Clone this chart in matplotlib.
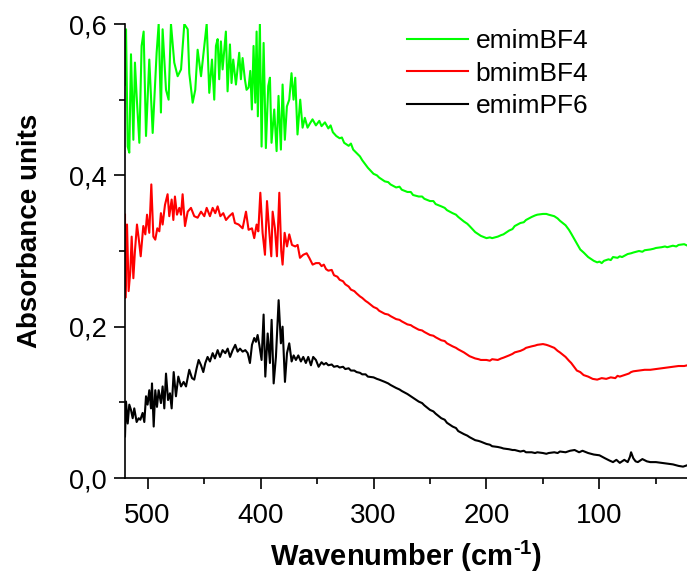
import matplotlib
matplotlib.use("Agg")
import matplotlib.pyplot as plt
from matplotlib.ticker import MultipleLocator, FuncFormatter

plt.rcParams['font.family'] = ['Liberation Sans', 'DejaVu Sans']
plt.rcParams['mathtext.fontset'] = 'custom'
plt.rcParams['mathtext.bf'] = 'Liberation Sans:bold'
plt.rcParams['mathtext.rm'] = 'Liberation Sans:bold'

labels = ["emimBF4", "bmimBF4", "emimPF6"]
colors = ["#00ff00", "#ff0000", "#000000"]

# emimBF4 (green)
x_emimBF4 = [520, 519.1, 517.6, 516.2, 514.7, 512.6, 511.2, 509.7, 507.3, 505.3, 503.5, 501.4,
             498.5, 495.5, 492.0, 490.2, 488.2, 486.7, 483.7, 481.4, 479.3, 476.4, 473.4, 470.4,
             467.5, 464.5, 463.1, 460.1, 457.8, 455.7, 452.7, 449.8, 447.7, 445.4, 443.0, 441.0,
             439.5, 438.0, 436.6, 435.1, 433.6, 430.7, 429.2, 427.1, 425.7, 424.2, 421.8, 418.9,
             417.4, 415.9, 413.9, 412.4, 410.6, 409.1, 407.7, 406.2, 404.7, 403.5, 402.4, 400.6,
             399.1, 397.3, 395.3, 393.2, 391.7, 390.3, 387.9, 385.8, 384.1, 382.0, 380.5, 378.5,
             376.7, 374.6, 372.6, 370.8, 369.3, 367.3, 364.9, 362.8, 360.8, 358.4, 356.1, 354.0,
             351, 348, 346, 343, 340, 338, 336, 333,
             330, 328, 326, 322, 320, 318, 314, 312,
             310, 307, 305, 300, 297, 295, 290, 287,
             285, 280, 277, 275, 270, 267, 265, 260,
             257, 255, 250, 247, 245, 240, 237, 235,
             230, 227, 225, 220, 217, 215, 210, 207,
             205, 200, 197, 195, 190, 187, 185, 180,
             177, 175, 170, 167, 165, 160, 157, 155,
             150, 147, 145, 140, 137, 135, 130, 127,
             125, 120, 117, 114, 110, 107, 105, 102,
             100, 98, 96, 92, 90, 88, 84, 82,
             80, 75, 72, 70, 65, 62, 60, 55,
             52, 50, 45, 42, 40, 35, 32, 30,
             25, 22]
y_emimBF4 = [0.520, 0.593, 0.438, 0.430, 0.560, 0.447, 0.549, 0.505, 0.443, 0.571, 0.590, 0.452,
             0.553, 0.456, 0.562, 0.600, 0.483, 0.593, 0.513, 0.500, 0.600, 0.549, 0.531, 0.540,
             0.600, 0.593, 0.535, 0.496, 0.513, 0.566, 0.531, 0.571, 0.600, 0.509, 0.553, 0.500,
             0.571, 0.580, 0.527, 0.577, 0.540, 0.590, 0.511, 0.573, 0.522, 0.553, 0.520, 0.562,
             0.527, 0.555, 0.527, 0.513, 0.516, 0.538, 0.487, 0.571, 0.496, 0.590, 0.478, 0.600,
             0.438, 0.575, 0.436, 0.518, 0.529, 0.443, 0.487, 0.432, 0.505, 0.434, 0.520, 0.447,
             0.491, 0.500, 0.535, 0.500, 0.529, 0.454, 0.500, 0.463, 0.476, 0.463, 0.469, 0.474,
             0.466, 0.472, 0.465, 0.470, 0.462, 0.466, 0.457, 0.452,
             0.449, 0.450, 0.443, 0.439, 0.442, 0.434, 0.428, 0.425,
             0.420, 0.414, 0.410, 0.402, 0.400, 0.397, 0.392, 0.391,
             0.388, 0.384, 0.385, 0.381, 0.378, 0.378, 0.374, 0.372,
             0.372, 0.369, 0.366, 0.366, 0.362, 0.359, 0.357, 0.354,
             0.350, 0.348, 0.345, 0.339, 0.336, 0.333, 0.325, 0.322,
             0.320, 0.317, 0.318, 0.317, 0.319, 0.321, 0.322, 0.327,
             0.329, 0.333, 0.337, 0.338, 0.341, 0.345, 0.347, 0.348,
             0.349, 0.349, 0.348, 0.346, 0.343, 0.340, 0.334, 0.328,
             0.323, 0.310, 0.302, 0.298, 0.292, 0.289, 0.287, 0.285,
             0.286, 0.284, 0.287, 0.289, 0.288, 0.292, 0.291, 0.293,
             0.292, 0.296, 0.297, 0.298, 0.300, 0.299, 0.301, 0.302,
             0.303, 0.304, 0.305, 0.306, 0.305, 0.307, 0.306, 0.308,
             0.309, 0.307]

# bmimBF4 (red)
x_bmimBF4 = [520, 519.7, 518.2, 516.8, 515.3, 514.1, 512.6, 511.2, 509.4, 507.9, 506.1, 503.8,
             502.0, 500.5, 498.5, 496.7, 494.9, 493.2, 491.4, 489.6, 488.2, 486.7, 484.6, 482.3,
             480.8, 478.7, 477.2, 475.8, 474.0, 471.9, 470.4, 469.0, 466.9, 464.5, 461.6, 458.7,
             455.7, 452.7, 449.8, 447.7, 444.8, 442.4, 440.1, 438.0, 435.6, 433.0, 430.6, 427.7,
             424.7, 422.7, 419.4, 415.9, 412.9, 410.6, 407.6, 405.6, 403.5, 402.0, 400.2, 398.2,
             396.1, 394.3, 392.3, 390.5, 389.3, 387.3, 385.5, 383.4, 381.7, 380.5, 378.7, 376.6,
             374.6, 372.2, 369.3, 367.2, 365.1, 362.2, 359.2, 356.9, 353.9, 351.0, 348.0,
             346, 344, 342, 340, 337, 335, 332, 330,
             327, 325, 322, 320, 317, 315, 312, 310,
             307, 305, 300, 297, 295, 290, 287, 285,
             280, 277, 275, 270, 267, 265, 260, 257,
             255, 250, 247, 245, 240, 237, 235, 230,
             227, 225, 220, 217, 215, 210, 207, 205,
             200, 197, 195, 190, 187, 185, 180, 177,
             175, 170, 167, 165, 160, 157, 155, 150,
             147, 145, 140, 137, 135, 130, 127, 125,
             120, 117, 114, 110, 106, 102, 98, 94,
             90, 86, 84, 82, 78, 74, 72, 70,
             65, 60, 55, 50, 45, 40, 35, 30,
             25, 22]
y_bmimBF4 = [0.348, 0.238, 0.335, 0.247, 0.273, 0.319, 0.264, 0.300, 0.335, 0.317, 0.293, 0.333,
             0.322, 0.348, 0.324, 0.388, 0.319, 0.315, 0.330, 0.326, 0.350, 0.335, 0.361, 0.375,
             0.346, 0.368, 0.341, 0.372, 0.348, 0.357, 0.348, 0.375, 0.333, 0.352, 0.357, 0.346,
             0.344, 0.352, 0.346, 0.357, 0.346, 0.357, 0.350, 0.359, 0.346, 0.350, 0.341, 0.346,
             0.350, 0.337, 0.335, 0.330, 0.352, 0.328, 0.330, 0.317, 0.335, 0.326, 0.377, 0.324,
             0.295, 0.366, 0.326, 0.293, 0.352, 0.330, 0.293, 0.377, 0.300, 0.282, 0.324, 0.306,
             0.322, 0.308, 0.306, 0.308, 0.291, 0.295, 0.297, 0.291, 0.282, 0.284, 0.284,
             0.280, 0.282, 0.276, 0.274, 0.275, 0.268, 0.266, 0.262,
             0.260, 0.256, 0.253, 0.249, 0.247, 0.244, 0.240, 0.238,
             0.234, 0.232, 0.226, 0.224, 0.221, 0.217, 0.216, 0.214,
             0.210, 0.209, 0.207, 0.203, 0.202, 0.200, 0.196, 0.195,
             0.193, 0.189, 0.188, 0.186, 0.182, 0.181, 0.178, 0.174,
             0.172, 0.170, 0.166, 0.163, 0.161, 0.158, 0.157, 0.156,
             0.156, 0.155, 0.157, 0.156, 0.158, 0.159, 0.162, 0.164,
             0.166, 0.168, 0.170, 0.172, 0.174, 0.175, 0.176, 0.177,
             0.176, 0.175, 0.172, 0.168, 0.166, 0.160, 0.155, 0.152,
             0.142, 0.140, 0.136, 0.134, 0.131, 0.130, 0.132, 0.131,
             0.133, 0.132, 0.135, 0.134, 0.136, 0.138, 0.140, 0.141,
             0.142, 0.143, 0.143, 0.144, 0.145, 0.146, 0.147, 0.148,
             0.148, 0.149]

# emimPF6 (black)
x_emimPF6 = [520, 519.1, 517.6, 516.2, 514.7, 513.2, 511.8, 509.7, 507.9, 506.4, 504.4, 502.9,
             501.4, 500.0, 498.5, 497.0, 496.1, 494.6, 493.2, 491.7, 490.2, 488.2, 486.7, 485.2,
             483.7, 481.9, 480.2, 478.7, 476.9, 474.9, 472.8, 470.4, 468.1, 466.0, 463.1, 460.7,
             458.7, 456.6, 454.8, 452.7, 450.7, 448.9, 446.9, 444.8, 442.4, 440.4, 438.0, 435.9,
             433.6, 431.2, 429.1, 427.0, 424.7, 422.4, 420.3, 418.2, 415.9, 413.5, 411.4, 409.4,
             407.6, 405.6, 404.1, 402.6, 401.1, 399.1, 397.3, 395.8, 393.7, 391.7, 390.2, 388.4,
             386.4, 384.0, 382.0, 380.5, 378.4, 376.6, 374.6, 372.5, 370.7, 368.7, 366.6, 364.3,
             362.2, 359.9, 357.8, 355.4, 353.4, 351.0, 348.6,
             346, 344, 342, 340, 337, 335, 332, 330,
             327, 325, 322, 320, 317, 315, 312, 310,
             307, 305, 300, 297, 295, 290, 287, 285,
             280, 277, 275, 270, 267, 265, 260, 257,
             255, 250, 247, 245, 240, 237, 235, 230,
             227, 225, 220, 217, 215, 210, 207, 205,
             200, 197, 195, 190, 187, 185, 180, 177,
             175, 170, 167, 165, 160, 157, 155, 150,
             147, 145, 140, 137, 135, 130, 126, 122,
             118, 115, 110, 105, 100, 95, 91, 88,
             85, 82, 78, 75, 73, 72, 70, 68,
             66, 62, 58, 55, 50, 45, 40, 35,
             30, 26, 22]
y_emimPF6 = [0.055, 0.101, 0.072, 0.097, 0.090, 0.079, 0.092, 0.074, 0.079, 0.077, 0.086, 0.074,
             0.108, 0.097, 0.116, 0.092, 0.125, 0.068, 0.116, 0.094, 0.116, 0.099, 0.121, 0.092,
             0.138, 0.103, 0.112, 0.092, 0.140, 0.108, 0.134, 0.121, 0.127, 0.121, 0.143, 0.132,
             0.130, 0.145, 0.156, 0.149, 0.140, 0.152, 0.160, 0.154, 0.165, 0.158, 0.169, 0.160,
             0.169, 0.165, 0.171, 0.160, 0.169, 0.176, 0.167, 0.171, 0.167, 0.169, 0.165, 0.152,
             0.176, 0.185, 0.180, 0.189, 0.176, 0.156, 0.216, 0.134, 0.191, 0.152, 0.209, 0.125,
             0.160, 0.235, 0.178, 0.200, 0.127, 0.165, 0.178, 0.154, 0.162, 0.156, 0.162, 0.154,
             0.160, 0.152, 0.160, 0.149, 0.160, 0.156, 0.147,
             0.153, 0.150, 0.152, 0.149, 0.150, 0.147, 0.148, 0.146,
             0.147, 0.144, 0.145, 0.142, 0.142, 0.140, 0.139, 0.137,
             0.137, 0.134, 0.133, 0.131, 0.130, 0.127, 0.125, 0.123,
             0.119, 0.117, 0.115, 0.111, 0.108, 0.106, 0.101, 0.099,
             0.096, 0.090, 0.088, 0.085, 0.079, 0.077, 0.073, 0.068,
             0.066, 0.062, 0.058, 0.056, 0.054, 0.050, 0.049, 0.048,
             0.045, 0.044, 0.042, 0.041, 0.040, 0.039, 0.038, 0.037,
             0.037, 0.035, 0.036, 0.034, 0.034, 0.033, 0.034, 0.033,
             0.032, 0.033, 0.034, 0.033, 0.035, 0.034, 0.036, 0.037,
             0.034, 0.036, 0.033, 0.031, 0.030, 0.026, 0.023, 0.021,
             0.024, 0.020, 0.024, 0.021, 0.028, 0.034, 0.026, 0.022,
             0.021, 0.025, 0.022, 0.021, 0.021, 0.020, 0.019, 0.018,
             0.016, 0.015, 0.017]

x_ticks = [500, 400, 300, 200, 100]
y_ticks = [0.0, 0.2, 0.4, 0.6]
x_label = r"Wavenumber (cm$^{\text{-1}}$)"
y_label = "Absorbance units"

fig = plt.figure(figsize=(6.87, 5.75), dpi=100)
ax = fig.add_axes([125/687, 97/575, 1 - 125/687, (478 - 24)/575])

series = [(x_emimBF4, y_emimBF4), (x_bmimBF4, y_bmimBF4), (x_emimPF6, y_emimPF6)]
for (xs, ys), lab, col in zip(series, labels, colors):
    ax.plot(xs, ys, color=col, lw=1.5, label=lab)

ax.set_xlim(520, 22.5)
ax.set_ylim(0, 0.6)
ax.set_xticks(x_ticks)
ax.set_yticks(y_ticks)
ax.xaxis.set_minor_locator(MultipleLocator(50))
ax.yaxis.set_minor_locator(MultipleLocator(0.1))
ax.yaxis.set_major_formatter(FuncFormatter(lambda v, p: f"{v:.1f}".replace('.', ',')))

for s in ['top', 'right']:
    ax.spines[s].set_visible(False)
for s in ['left', 'bottom']:
    ax.spines[s].set_linewidth(1.2)
ax.tick_params(which='major', direction='out', length=8, width=1.2, labelsize=19.5, pad=5)
ax.tick_params(axis='x', which='major', labelsize=20, pad=10)
ax.tick_params(which='minor', direction='out', length=4, width=1.2)

ax.set_xlabel(x_label, fontsize=21, fontweight='bold', labelpad=7)
ax.set_ylabel(y_label, fontsize=20, fontweight='bold', labelpad=19)
ax.yaxis.label.set_y(0.544)

leg = ax.legend(loc='upper left', bbox_to_anchor=(407/687, 1 - 29/575),
                bbox_transform=fig.transFigure, frameon=False, fontsize=19,
                handlelength=2.3, handletextpad=0.3, labelspacing=0.33,
                borderpad=0, borderaxespad=0)
for l in leg.get_lines():
    l.set_linewidth(1.5)

fig.savefig("out.png", dpi=100)
